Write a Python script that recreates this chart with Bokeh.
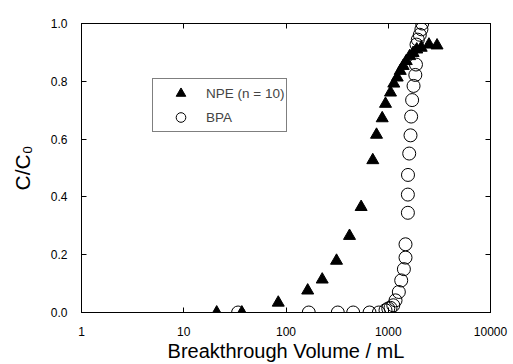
from bokeh.plotting import figure
from bokeh.models import (FixedTicker, PrintfTickFormatter, LogAxis, LinearAxis,
                          Legend, LegendItem, CustomJSTickFormatter)
from bokeh.embed import file_html
from bokeh.resources import INLINE

# NPE (n = 10) breakthrough data
npe_volume = [21, 37, 84, 163, 226, 312, 418, 543, 706, 768, 873, 940, 1052,
              1133, 1224, 1310, 1400, 1500, 1620, 1750, 1900, 2100, 2500, 3000]
npe_ratio = [0.0, 0.0, 0.034, 0.076, 0.114, 0.179, 0.265, 0.365, 0.527, 0.615,
             0.672, 0.722, 0.761, 0.792, 0.813, 0.836, 0.853, 0.870, 0.887,
             0.898, 0.910, 0.916, 0.927, 0.924]

# BPA breakthrough data
bpa_volume = [34, 167, 321, 454, 656, 809, 940, 1000, 1052, 1120, 1178, 1269,
              1339, 1422, 1475, 1475, 1556, 1556, 1560, 1603, 1651, 1675, 1712,
              1768, 1840, 1867, 1890, 1946, 2036, 2110, 2148]
bpa_ratio = [0.0, 0.0, 0.0, 0.0, 0.0, 0.0, 0.008, 0.014, 0.016, 0.025, 0.042,
             0.071, 0.111, 0.150, 0.190, 0.236, 0.345, 0.408, 0.476, 0.550,
             0.613, 0.678, 0.735, 0.784, 0.822, 0.858, 0.927, 0.944, 0.961,
             0.980, 1.0]

x_ticks = [1, 10, 100, 1000, 10000]
y_ticks = [0.0, 0.2, 0.4, 0.6, 0.8, 1.0]

FONT = "Liberation Sans"

p = figure(width=513, height=364, x_axis_type="log", x_range=(1, 10000),
           y_range=(0, 1.0), output_backend="svg", toolbar_location=None,
           min_border_left=81, min_border_right=23, min_border_top=23,
           min_border_bottom=50)
p.background_fill_color = "white"
p.border_fill_color = "white"
p.outline_line_color = "black"
p.outline_line_width = 1
p.xgrid.visible = False
p.ygrid.visible = False


def style_axis(ax, ticks, fmt, show_labels):
    ax.ticker = FixedTicker(ticks=ticks)
    ax.major_tick_in = 5
    ax.major_tick_out = 0
    ax.minor_tick_line_color = None
    ax.axis_line_color = "black"
    ax.major_tick_line_color = "black"
    ax.major_label_text_font = FONT
    ax.major_label_text_color = "black"
    if show_labels:
        ax.formatter = PrintfTickFormatter(format=fmt)
        ax.major_label_text_font_size = "12px"
    else:
        ax.formatter = CustomJSTickFormatter(code="return ''")
        ax.major_label_standoff = 0


style_axis(p.xaxis[0], x_ticks, "%d", True)
style_axis(p.yaxis[0], y_ticks, "%.1f", True)
p.xaxis[0].major_label_standoff = 14
p.yaxis[0].major_label_standoff = 14

p.xaxis.axis_label = "Breakthrough Volume / mL"
p.yaxis.axis_label = "C/C\u2080"
for ax in (p.xaxis[0], p.yaxis[0]):
    ax.axis_label_text_font = FONT
    ax.axis_label_text_font_style = "normal"
    ax.axis_label_text_color = "black"
    ax.axis_label_text_font_size = "20px"
p.yaxis[0].axis_label_text_font_size = "21px"
p.xaxis[0].axis_label_standoff = 1
p.yaxis[0].axis_label_standoff = 14

top_axis = LogAxis()
style_axis(top_axis, x_ticks, "%d", False)
p.add_layout(top_axis, "above")
right_axis = LinearAxis()
style_axis(right_axis, y_ticks, "%.1f", False)
p.add_layout(right_axis, "right")

r_npe = p.scatter(npe_volume, npe_ratio, marker="triangle", size=12,
                  fill_color="black", line_color="black")
r_bpa = p.scatter(bpa_volume, bpa_ratio, marker="circle", size=13,
                  fill_color="white", fill_alpha=0.0, line_color="black",
                  line_width=1)

legend = Legend(items=[LegendItem(label="NPE (n = 10)", renderers=[r_npe]),
                       LegendItem(label="BPA", renderers=[r_bpa])],
                location=(71, 180), margin=0, padding=2, spacing=0,
                glyph_width=51, glyph_height=24, label_standoff=0,
                label_text_font=FONT, label_text_font_size="13.5px",
                border_line_color="black", border_line_width=1,
                background_fill_color="white", background_fill_alpha=1.0)
p.add_layout(legend, "center")

open("out.html", "w").write(file_html(p, INLINE))
